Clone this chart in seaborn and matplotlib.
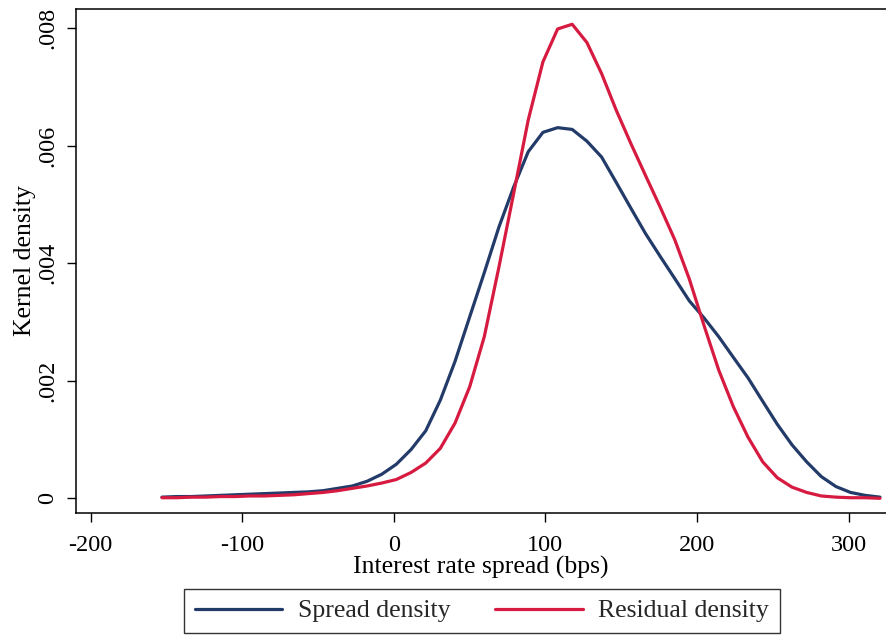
import numpy as np
import pandas as pd
import matplotlib
matplotlib.use("Agg")
import matplotlib.pyplot as plt
import seaborn as sns

# ---- data ----
spread_bps = [-152.9, -143.2, -133.6, -123.9, -114.2, -104.6, -94.9, -85.2, -75.6, -65.9,
              -56.3, -46.6, -36.9, -27.3, -17.6, -7.9, 1.7, 11.4, 21.1, 30.7,
              40.4, 50.1, 59.7, 69.4, 79.1, 88.7, 98.4, 108.1, 117.7, 127.4,
              137.1, 146.7, 156.4, 166.0, 175.7, 185.4, 195.0, 204.7, 214.4, 224.0,
              233.7, 243.4, 253.0, 262.7, 272.4, 282.0, 291.7, 301.3, 311.0, 320.7]

spread_density = [0.00002, 0.00003, 0.00003, 0.00004, 0.00005, 0.00006, 0.00007, 0.00008, 0.00009, 0.00010,
                  0.00011, 0.00013, 0.00017, 0.00021, 0.00029, 0.00041, 0.00058, 0.00083, 0.00115, 0.00167,
                  0.00233, 0.00309, 0.00384, 0.00462, 0.00530, 0.00590, 0.00623, 0.00631, 0.00628, 0.00608,
                  0.00581, 0.00538, 0.00494, 0.00451, 0.00412, 0.00374, 0.00336, 0.00307, 0.00275, 0.00240,
                  0.00205, 0.00165, 0.00126, 0.00091, 0.00062, 0.00037, 0.00020, 0.00010, 0.00005, 0.00002]

residual_density = [0.00001, 0.00001, 0.00002, 0.00002, 0.00003, 0.00003, 0.00004, 0.00004, 0.00005, 0.00006,
                    0.00008, 0.00010, 0.00013, 0.00017, 0.00021, 0.00026, 0.00032, 0.00044, 0.00060, 0.00085,
                    0.00128, 0.00190, 0.00275, 0.00394, 0.00519, 0.00644, 0.00743, 0.00799, 0.00807, 0.00776,
                    0.00723, 0.00661, 0.00604, 0.00550, 0.00496, 0.00440, 0.00373, 0.00294, 0.00218, 0.00156,
                    0.00104, 0.00062, 0.00035, 0.00019, 0.00010, 0.00004, 0.00002, 0.00001, 0.00001, 0.00000]

series_names = ["Spread density", "Residual density"]
series_colors = ["#233b69", "#d61a40"]

xtick_vals = [-200, -100, 0, 100, 200, 300]
xtick_labels = ["-200", "-100", "0", "100", "200", "300"]
ytick_vals = [0, 0.002, 0.004, 0.006, 0.008]
ytick_labels = ["0", ".002", ".004", ".006", ".008"]

x_label = "Interest rate spread (bps)"
y_label = "Kernel density"

# ---- build long-form table ----
df = pd.concat([
    pd.DataFrame({"x": spread_bps, "y": spread_density, "series": series_names[0]}),
    pd.DataFrame({"x": spread_bps, "y": residual_density, "series": series_names[1]}),
], ignore_index=True)

sns.set_theme(style="ticks")
plt.rcParams["font.family"] = ["Liberation Serif", "DejaVu Serif"]

fig = plt.figure(figsize=(8.86, 6.35), dpi=100)
ax = fig.add_axes([76 / 886, 1 - 513 / 635, 1 - 76 / 886, (513 - 9) / 635])

sns.lineplot(data=df, x="x", y="y", hue="series", hue_order=series_names,
             palette=series_colors, linewidth=2.3, ax=ax, legend=False, sort=False)

ax.set_xlim(-209.6, 324.7)
ax.set_ylim(-0.00025, 0.00833)

ax.set_xticks(xtick_vals)
ax.set_xticklabels(xtick_labels)
ax.set_yticks(ytick_vals)
ax.set_yticklabels(ytick_labels, rotation=90, va="center")

ax.tick_params(axis="both", which="major", length=6.5, width=1.0, color="black",
               labelsize=17.5, labelcolor="black", direction="out")
ax.tick_params(axis="x", pad=9)
ax.tick_params(axis="y", pad=6.5)

for side in ["left", "top", "bottom"]:
    ax.spines[side].set_visible(True)
    ax.spines[side].set_color("black")
    ax.spines[side].set_linewidth(1.1)
ax.spines["right"].set_visible(False)

ax.set_xlabel(x_label, fontsize=18.5, color="black", labelpad=0.5)
ax.set_ylabel(y_label, fontsize=18.5, color="black", labelpad=1)

handles = [plt.Line2D([], [], color=c, linewidth=2.3) for c in series_colors]
leg = fig.legend(handles, series_names, loc="center", bbox_to_anchor=(482 / 886, 1 - 611 / 635),
                 ncol=2, frameon=True, fancybox=False, fontsize=18.5,
                 handlelength=3.4, handletextpad=0.6, columnspacing=1.75,
                 borderpad=0.42, borderaxespad=0)
leg.get_frame().set_edgecolor("black")
leg.get_frame().set_linewidth(1.0)

fig.savefig("out.png", dpi=100, facecolor="white")
